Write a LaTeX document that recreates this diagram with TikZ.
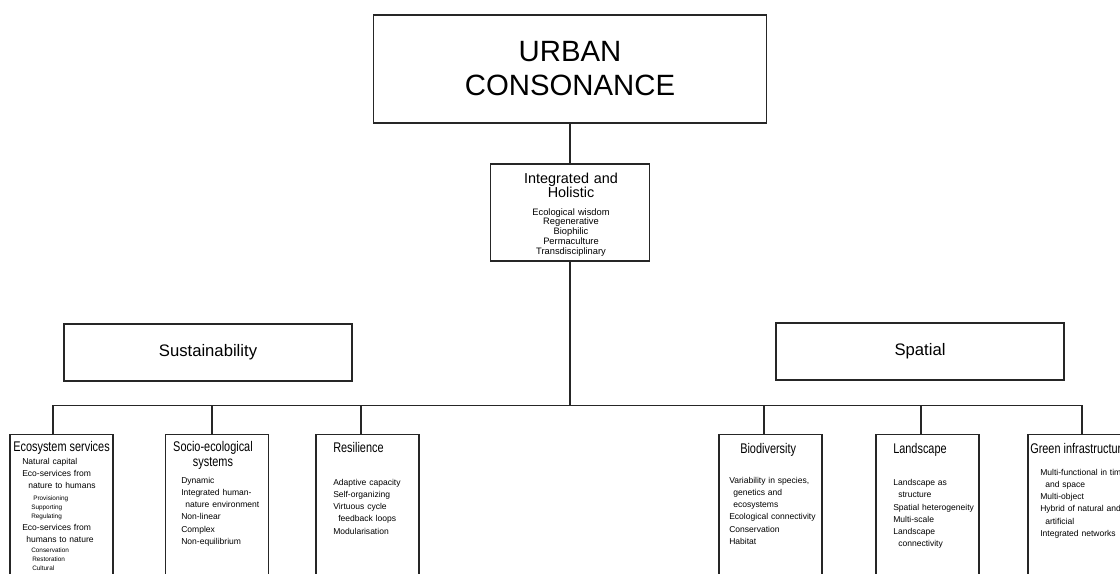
\documentclass[tikz,border=0pt]{standalone}
\usepackage{fontspec}
\setmainfont{Liberation Sans}
\newfontfamily\narrowfont[FakeStretch=0.78]{Liberation Sans}

\begin{document}
\begin{tikzpicture}[x=0.75pt,y=0.75pt,yscale=-1,xscale=1,
	box/.style={draw=black!85, line width=0.9pt, inner sep=0pt},
	leafbox/.style={box, anchor=north, minimum width=77.25pt, minimum height=125pt},
	leaftitle/.style={anchor=base west, inner sep=0pt, font=\narrowfont\fontsize{10.5}{11.25}\selectfont},
	itemlist/.style={anchor=base west, inner sep=0pt, text width=80pt, align=left, font=\fontsize{6.4}{9.2}\selectfont},
	subitems/.style={itemlist, font=\fontsize{4.8}{6.75}\selectfont},
	link/.style={draw=black!85, line width=0.9pt}]
	\useasboundingbox (0,0) rectangle (1120,574);
	\clip (0,0) rectangle (1120,574);
	
	%Shape: Rectangle [top]
	\draw (570,69) node [box, align=center, minimum width=294.75pt, minimum height=81pt, font=\fontsize{22}{25.5}\selectfont] (urban) {URBAN\\CONSONANCE};
	%Shape: Rectangle [integrated]
	\draw (570,212.5) node [box, minimum width=119.25pt, minimum height=72.75pt] (integ) {};
	%Shape: Rectangle [sustainability]
	\draw (208,352.5) node [box, minimum width=216pt, minimum height=42.75pt, font=\fontsize{12.5}{15}\selectfont] (sust) {Sustainability};
	%Shape: Rectangle [spatial]
	\draw (920,351.5) node [box, minimum width=216pt, minimum height=42.75pt, font=\fontsize{12.5}{15}\selectfont] (spatial) {Spatial};
	
	%Shape: Rectangle [leaves]
	\draw (61.5,433.5) node [leafbox] (eco) {};
	\draw (217,433.5) node [leafbox] (socio) {};
	\draw (367.5,433.5) node [leafbox] (resil) {};
	\draw (770.5,433.5) node [leafbox] (bio) {};
	\draw (927.5,433.5) node [leafbox] (land) {};
	\draw (1088,433.5) node [leafbox, minimum width=90pt] (green) {};
	
	%Straight Lines
	\coordinate (hub) at (570,405.5);
	\draw [link] (urban) -- (integ);
	\draw [link] (integ) -- (hub);
	\draw [link] (hub) -| ([xshift=-6.4pt]eco.north);
	\draw [link] (hub) -| ([xshift=-3.75pt]socio.north);
	\draw [link] (hub) -| ([xshift=-4.9pt]resil.north);
	\draw [link] (hub) -| ([xshift=-4.9pt]bio.north);
	\draw [link] (hub) -| ([xshift=-4.9pt]land.north);
	\draw [link] (hub) -| ([xshift=-4.5pt]green.north);
	
	% Text Node
	\draw (571,183) node [anchor=base, inner sep=0pt, text width=110pt, align=center, font=\fontsize{10.8}{11.2}\selectfont] (integT) {Integrated and\\Holistic};
	% Text Node
	\draw (571,215) node [anchor=base, inner sep=0pt, text width=110pt, align=center, font=\fontsize{7}{7.35}\selectfont] (integL) {Ecological wisdom\\Regenerative\\Biophilic\\Permaculture\\Transdisciplinary};
	
	% Text Node
	\draw (13,451) node [leaftitle] (ecoT) {Ecosystem services};
	% Text Node
	\draw (22,464) node [itemlist] (ecoA) {Natural capital\\Eco-services from\\\hspace*{4.5pt}nature to humans};
	% Text Node
	\draw (31,500) node [subitems] (ecoB) {\hspace*{1.5pt}Provisioning\\Supporting\\Regulating};
	% Text Node
	\draw (22,530) node [itemlist] (ecoC) {Eco-services from\\\hspace*{3pt}humans to nature};
	% Text Node
	\draw (31,552) node [subitems] (ecoD) {Conservation\\\hspace*{0.75pt}Restoration\\\hspace*{0.75pt}Cultural};
	
	% Text Node
	\draw (213,451) node [leaftitle, anchor=base, text width=100pt, align=center] (socioT) {Socio-ecological\\systems};
	% Text Node
	\draw (181,483) node [itemlist] (socioL) {Dynamic\\Integrated human-\\\hspace*{3pt}nature environment\\Non-linear\\Complex\\Non-equilibrium};
	
	% Text Node
	\draw (333,452) node [leaftitle] (resilT) {Resilience};
	% Text Node
	\draw (333,485) node [itemlist] (resilL) {Adaptive capacity\\Self-organizing\\Virtuous cycle\\\hspace*{3.75pt}feedback loops\\Modularisation};
	
	% Text Node
	\draw (740,453) node [leaftitle] (bioT) {Biodiversity};
	% Text Node
	\draw (729,483) node [itemlist] (bioL) {Variability in species,\\\hspace*{3pt}genetics and\\\hspace*{3pt}ecosystems\\Ecological connectivity\\Conservation\\Habitat};
	
	% Text Node
	\draw (893,453) node [leaftitle] (landT) {Landscape};
	% Text Node
	\draw (893,485.5) node [itemlist] (landL) {Landscape as\\\hspace*{3.75pt}structure\\Spatial heterogeneity\\Multi-scale\\Landscape\\\hspace*{3.75pt}connectivity};
	
	% Text Node
	\draw (1030,453) node [leaftitle] (greenT) {Green infrastructure};
	% Text Node
	\draw (1040,475) node [itemlist] (greenL) {Multi-functional in time\\\hspace*{3.75pt}and space\\Multi-object\\Hybrid of natural and\\\hspace*{3.75pt}artificial\\Integrated networks};
	
\end{tikzpicture}
\end{document}
